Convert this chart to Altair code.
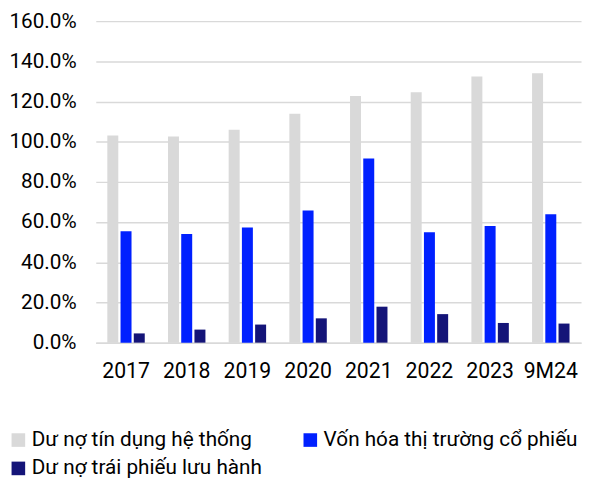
import altair as alt
import pandas as pd

years = ["2017", "2018", "2019", "2020", "2021", "2022", "2023", "9M24"]
series = ["Dư nợ tín dụng hệ thống", "Vốn hóa thị trường cổ phiếu", "Dư nợ trái phiếu lưu hành"]
credit = [103.1, 102.6, 106.0, 113.9, 122.7, 124.6, 132.5, 134.1]
equity = [55.5, 54.1, 57.3, 65.8, 91.7, 54.9, 58.1, 63.9]
bonds = [4.6, 6.5, 9.0, 12.1, 17.9, 14.2, 9.8, 9.5]
colors = ["#D9D9D9", "#0020FF", "#141478"]

rows = []
for i, y in enumerate(years):
    for s, vals in zip(series, [credit, equity, bonds]):
        rows.append({"year": y, "series": s, "value": vals[i] / 100})
df = pd.DataFrame(rows)

font = "Roboto"
chart = alt.Chart(df).mark_bar().encode(
    x=alt.X("year:N", sort=years, title=None,
            scale=alt.Scale(paddingInner=0.383, paddingOuter=0.19),
            axis=alt.Axis(labelAngle=0, labelFontSize=21.5, labelColor="#000000",
                          labelFont=font, labelFontWeight=400, ticks=False,
                          domainColor="#D9D9D9", domainWidth=1.5, labelPadding=18)),
    xOffset=alt.XOffset("series:N", sort=series,
                        scale=alt.Scale(paddingInner=0.17, paddingOuter=0)),
    y=alt.Y("value:Q", title=None,
            scale=alt.Scale(domain=[0, 1.6]),
            axis=alt.Axis(format=".1%", values=[0, 0.2, 0.4, 0.6, 0.8, 1.0, 1.2, 1.4, 1.6],
                          labelFontSize=21, labelColor="#000000", labelFont=font,
                          labelFontWeight=400, ticks=False, domain=False,
                          gridColor="#D9D9D9", gridWidth=1.5, labelPadding=20)),
    color=alt.Color("series:N", sort=series,
                    scale=alt.Scale(domain=series, range=colors),
                    legend=alt.Legend(title=None, orient="none", legendX=-89, legendY=414,
                                      direction="horizontal",
                                      columns=2, symbolType="square", symbolSize=190,
                                      symbolStrokeWidth=0, labelFontSize=21,
                                      labelFont=font, labelFontWeight=400,
                                      labelColor="#000000", labelOffset=3,
                                      columnPadding=38, rowPadding=7,
                                      labelLimit=400)),
).properties(
    width=492, height=326,
    autosize=alt.AutoSizeParams(type="none"),
    padding={"left": 89, "top": 10, "right": 3, "bottom": 140}
).configure_view(stroke=None)

chart.save("out.html", embed_options={"renderer": "svg", "actions": False})
